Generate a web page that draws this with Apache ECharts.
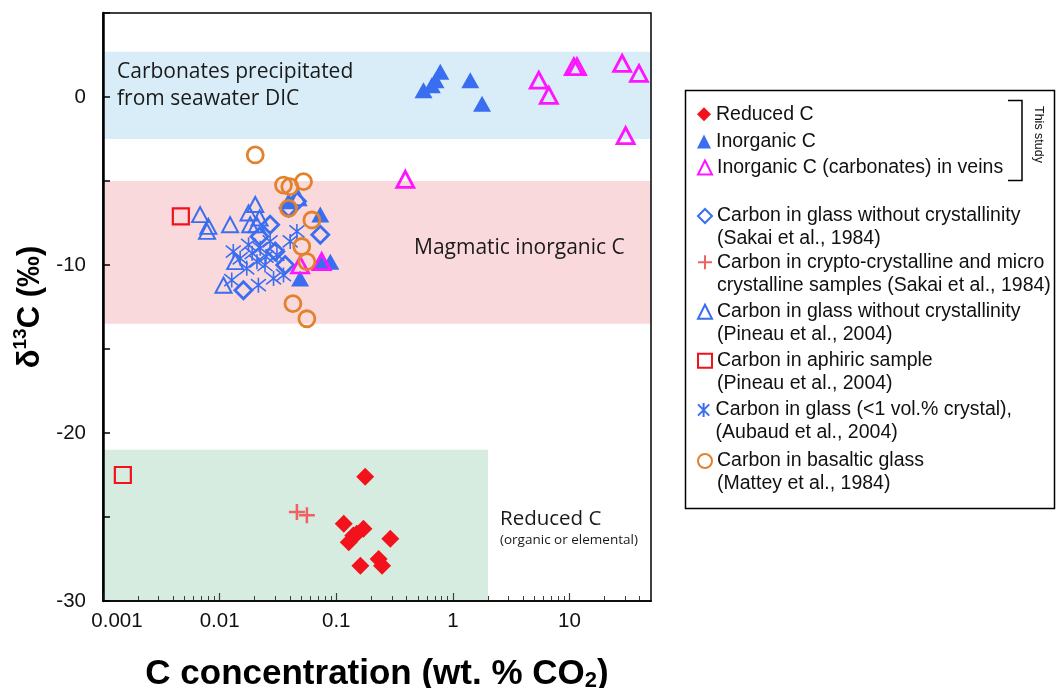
<!DOCTYPE html>
<html><head><meta charset="utf-8">
<script src="https://cdn.jsdelivr.net/npm/echarts@6/dist/echarts.min.js"></script>
<style>html,body{margin:0;padding:0;background:#fff}#c{width:1056px;height:688px}</style>
</head><body><div id="c"></div>
<script>
// ---------- data ----------
const xTickValues = [0.001, 0.01, 0.1, 1, 10];
const xTickLabels = ['0.001', '0.01', '0.1', '1', '10'];
const xMinorTicks = [0.002,0.003,0.004,0.005,0.006,0.007,0.008,0.009,
  0.02,0.03,0.04,0.05,0.06,0.07,0.08,0.09,
  0.2,0.3,0.4,0.5,0.6,0.7,0.8,0.9,
  2,3,4,5,6,7,8,9, 20,30,40];
const yLabelValues = [0, -10, -20, -30];

// background fields: [[x0, y0], [x1, y1]]
const bandCarbonates = [[0.001, 2.7], [50, -2.5]];
const bandMagmatic = [[0.001, -5.0], [50, -13.5]];
const bandReduced = [[0.001, -21.0], [2.0, -30]];

// series values: [C concentration (wt.% CO2), d13C (permil)]
const reducedC = [[0.177,-22.6],[0.116,-25.4],[0.171,-25.7],[0.140,-26.1],[0.128,-26.5],[0.150,-26.0],[0.291,-26.3],[0.161,-27.9],[0.231,-27.5],[0.247,-27.9]];
const inorganicC = [[0.78,1.5],[0.71,1.0],[0.66,0.7],[0.56,0.4],[1.41,1.0],[1.78,-0.4],[0.073,-7.0],[0.089,-9.8],[0.073,-9.8],[0.049,-10.8],[0.039,-6.2]];
const veins = [[5.45,1.0],[6.65,0.1],[10.9,1.8],[11.6,1.8],[28.3,2.0],[39.4,1.4],[30.3,-2.3],[0.391,-4.9],[0.049,-10.0],[0.075,-9.8]];
const sakaiGlass = [[0.0271,-7.6],[0.039,-6.6],[0.073,-8.2],[0.016,-11.5],[0.0365,-10.0],[0.046,-6.2],[0.022,-8.3],[0.030,-9.2]];
const sakaiCrypto = [[0.046,-24.7],[0.056,-24.9]];
const pineauGlass = [[0.0068,-7.0],[0.0080,-7.7],[0.0078,-8.0],[0.0123,-7.6],[0.0177,-6.9],[0.0202,-6.4],[0.0183,-7.6],[0.0208,-7.6],[0.0136,-9.8],[0.0108,-11.2],[0.047,-6.0],[0.022,-7.2]];
const pineauAphiric = [[0.00148,-22.5],[0.00465,-7.1]];
const aubaud = [[0.0131,-9.2],[0.0177,-8.8],[0.0223,-9.0],[0.0209,-9.8],[0.0271,-8.6],[0.031,-9.4],[0.029,-10.8],[0.0215,-11.2],[0.046,-8.0],[0.0403,-8.6],[0.0171,-10.2],[0.0127,-10.9],[0.0353,-10.6],[0.015,-9.6],[0.0245,-10.0],[0.019,-9.3],[0.025,-9.5]];
const mattey = [[0.0202,-3.45],[0.0353,-5.24],[0.040,-5.34],[0.0524,-5.04],[0.039,-6.63],[0.0618,-7.32],[0.0506,-8.9],[0.056,-9.8],[0.0425,-12.3],[0.056,-13.2]];

const seriesNames = ['Reduced C','Inorganic C','Inorganic C (carbonates) in veins',
  'Carbon in glass without crystallinity (Sakai et al., 1984)',
  'Carbon in crypto-crystalline and micro crystalline samples (Sakai et al., 1984)',
  'Carbon in glass without crystallinity (Pineau et al., 2004)',
  'Carbon in aphiric sample (Pineau et al., 2004)',
  'Carbon in glass (<1 vol.% crystal), (Aubaud et al., 2004)',
  'Carbon in basaltic glass (Mattey et al., 1984)'];
const legendLines = [['Reduced C'],['Inorganic C'],['Inorganic C (carbonates) in veins'],
  ['Carbon in glass without crystallinity','(Sakai et al., 1984)'],
  ['Carbon in crypto-crystalline and micro','crystalline samples (Sakai et al., 1984)'],
  ['Carbon in glass without crystallinity','(Pineau et al., 2004)'],
  ['Carbon in aphiric sample','(Pineau et al., 2004)'],
  ['Carbon in glass (<1 vol.% crystal),','(Aubaud et al., 2004)'],
  ['Carbon in basaltic glass','(Mattey et al., 1984)']];

// ---------- styling ----------
const RED = '#f2121c', BLUE = '#3a6ef0', MAG = '#ff14ff', SALMON = '#ee6262', ORANGE = '#e3822c';
const CLEAR = 'rgba(0,0,0,0)';
const FONT = '"Liberation Sans", Arial, Helvetica, sans-serif';
const ANN = '"Open Sans", "Noto Sans", sans-serif';

function sc(name, data, symbol, size, itemStyle) {
  itemStyle.opacity = 1;
  return { name, type: 'scatter', data, symbol, symbolSize: size, itemStyle,
    emphasis: { disabled: true }, z: 3, xAxisIndex: 0, yAxisIndex: 0 };
}

const series = [
  { name: 'bands', type: 'scatter', data: [], silent: true, z: 1,
    markArea: { silent: true, label: { show: false },
      data: [
        [{ coord: bandCarbonates[0], itemStyle: { color: '#d9edf8', opacity: 1 } }, { coord: bandCarbonates[1] }],
        [{ coord: bandMagmatic[0], itemStyle: { color: '#fad9dd', opacity: 1 } }, { coord: bandMagmatic[1] }],
        [{ coord: bandReduced[0], itemStyle: { color: '#d7ece1', opacity: 1 } }, { coord: bandReduced[1] }]
      ] } },
  sc(seriesNames[5], pineauGlass, 'triangle', [16, 15], { color: CLEAR, borderColor: BLUE, borderWidth: 2 }),
  sc(seriesNames[7], aubaud, 'path://M1,1L9,9M9,1L1,9M5,0L5,10', [15, 15], { color: CLEAR, borderColor: BLUE, borderWidth: 1.6 }),
  sc(seriesNames[3], sakaiGlass, 'diamond', [17, 17], { color: CLEAR, borderColor: BLUE, borderWidth: 2.8 }),
  sc(seriesNames[1], inorganicC, 'triangle', [18, 16], { color: BLUE }),
  sc(seriesNames[2], veins, 'triangle', [17, 16], { color: CLEAR, borderColor: MAG, borderWidth: 2.8 }),
  sc(seriesNames[8], mattey, 'circle', 16, { color: CLEAR, borderColor: ORANGE, borderWidth: 2.8 }),
  sc(seriesNames[6], pineauAphiric, 'rect', 16, { color: CLEAR, borderColor: RED, borderWidth: 2.2 }),
  sc(seriesNames[4], sakaiCrypto, 'path://M0,5L10,5M5,0L5,10', [16, 16], { color: CLEAR, borderColor: SALMON, borderWidth: 2.5 }),
  sc(seriesNames[0], reducedC, 'diamond', [18, 18], { color: RED })
];

// legends: one per block, icon aligned with the first text line
const legendCenters = [114.2, 141.5, 167.5, 216, 262.3, 311.7, 360.7, 410, 461];
const legends = [];
legendLines.forEach((lines, i) => {
  const two = lines.length > 1;
  legends.push({
    data: [seriesNames[i]], orient: 'vertical', left: 697,
    top: legendCenters[i] - (two ? 34.5 : 11.5), padding: 0,
    itemWidth: 14, itemHeight: 14, selectedMode: false,
    formatter: () => (two ? '\n' : '') + lines.join('\n'),
    textStyle: { fontFamily: FONT, fontSize: 19.5, color: '#111', lineHeight: 23 }
  });
});

const option = {
  animation: false,
  backgroundColor: '#fff',
  grid: { left: 103, right: 405, top: 13, bottom: 87, show: true, z: 10,
    outerBoundsMode: 'none', containLabel: false,
    backgroundColor: CLEAR, borderColor: '#000', borderWidth: 1.5 },
  xAxis: [
    { type: 'log', logBase: 10, min: 0.001, max: 50, position: 'bottom', z: 6,
      axisLine: { show: true, onZero: false, lineStyle: { color: '#3c3c3c', width: 2 } },
      axisTick: { show: true, inside: true, length: 8, customValues: xTickValues, lineStyle: { color: '#3c3c3c', width: 1.2 } },
      axisLabel: { show: true, customValues: xTickValues, margin: 10, fontFamily: FONT, fontSize: 20.5, color: '#111',
        formatter: (v) => {
          const i = xTickValues.findIndex(t => Math.abs(t - v) / t < 1e-6);
          if (i < 0) return '';
          return i === 0 ? '{f|' + xTickLabels[i] + '}' : xTickLabels[i];
        },
        rich: { f: { fontFamily: FONT, fontSize: 20.5, color: '#111', padding: [0, 0, 0, 28] } } },
      splitLine: { show: false },
      name: '{a|C concentration (wt. % CO}{s|2}{a|)}', nameLocation: 'middle', nameGap: 56,
      nameTextStyle: { rich: {
        a: { fontFamily: FONT, fontWeight: 'bold', fontSize: 35, color: '#000' },
        s: { fontFamily: FONT, fontWeight: 'bold', fontSize: 22, color: '#000', padding: [13, 0, 0, 0] } } } },
    { type: 'log', logBase: 10, min: 0.001, max: 50, position: 'bottom', z: 6,
      axisLine: { show: false, onZero: false },
      axisTick: { show: true, inside: true, length: 5, customValues: xMinorTicks, lineStyle: { color: '#3c3c3c', width: 1 } },
      axisLabel: { show: false }, splitLine: { show: false } }
  ],
  yAxis: [{
    type: 'value', min: -30, max: 5, interval: 5, z: 6,
    axisLine: { show: true, onZero: false, lineStyle: { color: '#000', width: 2.5 } },
    axisTick: { show: true, inside: true, length: 7, lineStyle: { color: '#000', width: 1.5 } },
    axisLabel: { margin: 17, fontFamily: FONT, fontSize: 20.5, color: '#111',
      formatter: (v) => yLabelValues.indexOf(v) >= 0 ? String(v) : '' },
    splitLine: { show: false },
    name: '{d|δ}{u|13}{d|C (‰)}', nameLocation: 'middle', nameGap: 53, nameRotate: 90,
    nameTextStyle: { rich: {
      d: { fontFamily: FONT, fontWeight: 'bold', fontSize: 31, color: '#000' },
      u: { fontFamily: FONT, fontWeight: 'bold', fontSize: 19, color: '#000', padding: [0, 0, 18, 0] } } }
  }],
  legend: legends,
  series,
  graphic: [
    { type: 'text', left: 117, top: 59, z: 20, silent: true,
      style: { text: 'Carbonates precipitated\nfrom seawater DIC', font: '21px ' + ANN, lineHeight: 27, fill: '#1a1a1a' } },
    { type: 'text', left: 414, top: 235, z: 20, silent: true,
      style: { text: 'Magmatic inorganic C', font: '21px ' + ANN, lineHeight: 26, fill: '#1a1a1a' } },
    { type: 'text', left: 500, top: 507, z: 20, silent: true,
      style: { text: 'Reduced C', font: '20.5px ' + ANN, lineHeight: 24, fill: '#1a1a1a' } },
    { type: 'text', left: 500, top: 532, z: 20, silent: true,
      style: { text: '(organic or elemental)', font: '13.5px ' + ANN, lineHeight: 16, fill: '#1a1a1a' } },
    { type: 'rect', z: 20, silent: true, shape: { x: 685.5, y: 90.5, width: 369, height: 418 },
      style: { fill: 'none', stroke: '#000', lineWidth: 1.5 } },
    { type: 'polyline', z: 20, silent: true, shape: { points: [[1008, 100.5], [1022, 100.5], [1022, 180.5], [1008, 180.5]] },
      style: { fill: 'none', stroke: '#000', lineWidth: 1.5 } },
    { type: 'text', x: 1038, y: 134.5, rotation: -Math.PI / 2, z: 20, silent: true,
      style: { text: 'This study', font: '12.5px ' + FONT, align: 'center', verticalAlign: 'middle', fill: '#111' } }
  ]
};

const chart = echarts.init(document.getElementById('c'), null, { renderer: 'canvas' });
chart.setOption(option);
</script></body></html>
